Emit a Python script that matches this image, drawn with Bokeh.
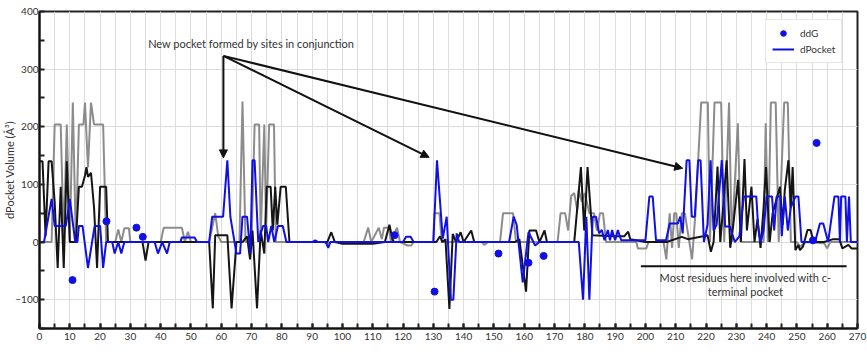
from bokeh.plotting import figure
from bokeh.models import (FixedTicker, Legend, LegendItem, Arrow, NormalHead,
                          Label, Range1d)
from bokeh.embed import file_html
from bokeh.resources import INLINE

# ---------------- data ----------------
gray_x = [0, 4, 5, 7, 8, 9, 10, 11, 12, 13,
          14.5, 15, 16, 17, 18, 21, 22, 25, 26, 27,
          28, 29.5, 30, 40, 41, 47, 48, 49, 50, 56,
          58, 59, 60, 66, 67, 68, 70, 71, 72.5, 73,
          74.2, 74.8, 75.8, 77.4, 78, 94, 95, 96, 107, 108.5,
          109.5, 112, 113, 113.7, 115.3, 116, 118, 119, 121.5, 122.7,
          123.5, 130, 130.3, 132, 132.8, 146, 146.8, 148, 152, 153,
          156.3, 157.3, 171, 172, 173.5, 174.5, 175.5, 176.5, 177.5, 178,
          179, 180, 181.5, 183, 184, 185, 186, 187, 197, 197.5,
          200.3, 201, 206, 206.9, 208, 208.8, 209.5, 210.2, 211, 212,
          213, 214.5, 215.4, 216.5, 218.4, 220.6, 221.3, 222.8, 225, 226,
          227.6, 228.5, 230.5, 231.5, 239, 239.7, 240.5, 241.4, 243, 244,
          245.8, 247, 248, 250, 251, 253, 259, 260, 261, 270]
gray_y = [0, 0, 204, 204, 0, 204, 0, 242, 0, 204,
          204, 242, 130, 242, 204, 204, 0, 0, 22, 0,
          24, 24, 0, 0, 25, 25, 0, 18, 0, 0,
          50, 10, 0, 0, 244, 0, 0, 204, 204, 10,
          204, 20, 204, 204, 0, 0, -3, 0, 0, 25,
          0, 25, 5, 25, 25, 0, 25, 0, -6, -6,
          0, 0, 50, 50, 0, 0, -5, 0, 0, 50,
          50, 0, 0, 50, 50, 20, 80, 85, 55, 90,
          70, 85, 50, 50, 20, 50, 50, 0, 0, -11,
          -11, 0, 0, -30, 50, -10, 50, 50, -10, 50,
          50, 0, -30, 50, 242, 242, 0, 242, 242, 0,
          242, 0, 206, 0, 0, 206, 0, 242, 242, 0,
          242, 242, 0, 0, -8, 0, -2, -11, 0, 0]

black_x = [0, 1, 2, 3, 4, 5, 6, 7, 8, 9,
           10, 12, 13, 14, 15, 15.5, 16, 17, 18, 19,
           20, 22, 22.6, 34, 35, 36, 56, 57.2, 58, 62,
           63.4, 65, 67, 68.5, 69.5, 70.3, 71.8, 73, 74.2, 75,
           76.3, 77, 77.8, 78.5, 79.6, 81.3, 82.5, 95, 96.3, 97.5,
           100, 110, 114, 115.5, 116.5, 117, 131, 132.2, 133, 134,
           135.3, 136.4, 137.5, 139, 140, 142.5, 143.5, 157, 158.4, 160.6,
           161.7, 163.9, 165, 166.7, 167.5, 176.5, 178.7, 179.8, 180.9, 182.5,
           190, 193, 194.3, 195, 200, 207, 212, 214, 219, 220.5,
           221.6, 222.5, 223.8, 224.7, 225.5, 226.8, 228, 229, 230.6, 231.5,
           232.7, 233.5, 235, 236, 237, 238, 239, 239.8, 241, 242,
           244.4, 245.3, 246, 247.2, 248, 248.6, 249.5, 250.5, 251, 252,
           253.5, 254.5, 255.5, 259, 262, 264, 265, 267, 268, 270]
black_y = [140, 140, 10, 140, 140, 70, -45, 96, -45, 140,
           0, 0, 96, 96, 115, 130, 113, 120, 60, -45,
           96, 96, 0, 0, -32, 0, 0, -115, 12, 12,
           -115, 0, 0, 10, -30, 20, -115, 20, -20, 96,
           96, 20, 96, 30, 96, 96, 0, 0, 17, 0,
           -3, -3, 0, 30, 5, 0, 0, 10, 0, 5,
           -116, 14, 0, 17, 0, 20, 0, 0, 5, -86,
           20, 20, 0, 20, 0, 0, 130, 20, 130, 12,
           10, 10, 18, 5, 0, 0, 9, 5, 10, 12,
           -17, 0, 131, 0, 50, 142, -10, 30, 108, 0,
           144, 20, 96, 0, 40, -10, 60, 130, 0, 50,
           96, 30, 90, 142, 60, 130, -14, -5, -14, -8,
           21, 21, 0, 0, 5, 5, -11, -5, -11, -11]

pocket_x = [0, 1.5, 4, 5, 8.7, 10, 11.8, 12.5, 13, 14.2,
            16, 18.2, 20, 21, 22, 24, 24.8, 26, 27, 28,
            38, 39.1, 40.5, 42.1, 43, 46.5, 47, 51.2, 52, 56,
            57, 60.6, 62, 63, 65, 66.2, 67, 68.5, 69.6, 70.3,
            71, 72.2, 73.8, 74.8, 75.5, 76.5, 77.5, 78.7, 80.3, 81.5,
            90, 91, 92, 94.5, 95.3, 96, 120, 121, 122.5, 123.5,
            130, 131.2, 133.1, 134.4, 135.8, 136.6, 137.7, 138.5, 155, 156.5,
            157.5, 159.5, 161.4, 163.6, 165, 178, 179.4, 180.5, 181.5, 182.6,
            183.7, 184.7, 185.6, 186.5, 187.6, 188.3, 189, 190, 190.9, 192,
            200, 201.3, 202.4, 203.5, 206.8, 208, 210.7, 211.5, 212.3, 213.6,
            214.5, 215.3, 216.3, 217.4, 218.2, 219.3, 220.5, 221.5, 222.5, 223.5,
            225.2, 226.3, 227.9, 229.5, 231, 232.5, 236.6, 237.2, 238, 239,
            240, 241.8, 242.5, 243.3, 244.5, 245, 246, 247, 248, 249.5,
            250.5, 251.5, 256, 257.6, 258.7, 260.3, 262.4, 263.7, 264.2, 264.6,
            266, 266.5, 267.2, 267.8, 270]
pocket_y = [0, 0, 75, 28, 28, 75, 0, 0, 28, 28,
            -45, 28, 28, -45, 0, 0, -20, 0, -20, 0,
            0, -20, 0, -20, 0, 0, 8, 8, 0, 0,
            44, 44, 142, 44, -20, -20, 44, 44, -20, 142,
            142, 0, 28, 28, 0, 28, 0, 28, 28, 0,
            0, 3, 0, 0, -10, 0, 0, 9, 9, 0,
            0, 142, 6, 44, -100, -100, 15, 0, 0, 44,
            30, -70, 17, -6, 0, 0, -100, 44, -100, 44,
            44, 15, 21, 3, 21, 3, 21, 3, 21, 3,
            3, 79, 79, 3, 3, 32, 32, 44, 15, 142,
            142, 44, 44, 142, 142, 0, 30, 142, 20, 30,
            142, 27, 27, 0, 10, 79, 79, 27, 0, 20,
            79, 79, 20, 79, 79, 10, 79, 20, 60, 79,
            79, 0, 0, 32, 32, 0, 79, 79, 0, 79,
            79, 0, 79, 0, 0]

ddg_x = [10.9, 22.1, 32, 34.1, 117.2, 130.4, 151.5, 161.4, 166.4, 255.3, 256.5]
ddg_y = [-66, 36, 25, 9, 12, -86, -20, -36, -24, 3, 172]

x_ticks = list(range(0, 271, 10))
x_minor = list(range(0, 271, 5))
y_ticks = [-100, 0, 100, 200, 300, 400]
y_minor = [-150, -50, 50, 150, 250, 350]

note_top = "New pocket formed by sites in conjunction"
note_bottom_1 = "Most residues here involved with c-"
note_bottom_2 = "terminal pocket"
y_title = "dPocket Volume (Å³)"
x_title = "Res #"

BLUE = "#1010e6"
FONT = "Lato"

p = figure(width=867, height=357, output_backend="svg", toolbar_location=None,
           x_range=Range1d(0, 270), y_range=Range1d(-150, 400),
           min_border_left=38, min_border_right=10, min_border_top=11,
           min_border_bottom=29)
p.outline_line_color = "#222222"
p.outline_line_width = 2
p.background_fill_color = "white"
p.border_fill_color = "white"

# axes
p.xaxis.ticker = FixedTicker(ticks=x_ticks, minor_ticks=x_minor)
p.yaxis.ticker = FixedTicker(ticks=y_ticks, minor_ticks=y_minor)
for ax in (p.xaxis[0], p.yaxis[0]):
    ax.axis_line_width = 2
    ax.axis_line_color = "#111111"
    ax.major_tick_in = 5
    ax.major_tick_out = 0
    ax.minor_tick_in = 5
    ax.minor_tick_out = 0
    ax.major_tick_line_width = 2
    ax.minor_tick_line_width = 2
    ax.major_tick_line_color = "#222222"
    ax.minor_tick_line_color = "#222222"
    ax.major_label_text_font = FONT
    ax.major_label_text_font_size = "10px"
    ax.major_label_text_color = "#333333"
    ax.major_label_standoff = 4
p.yaxis.major_label_standoff = 1
p.yaxis.axis_label = y_title
p.yaxis.axis_label_text_font = FONT
p.yaxis.axis_label_text_font_size = "11px"
p.yaxis.axis_label_text_font_style = "normal"
p.yaxis.axis_label_text_color = "#333333"
p.yaxis.axis_label_standoff = -4

p.xgrid.grid_line_color = "#dcdcdc"
p.xgrid.minor_grid_line_color = "#dcdcdc"
p.ygrid.grid_line_color = "#dcdcdc"

# series
p.line(gray_x, gray_y, line_color="#8c8c8c", line_width=2)
p.line(black_x, black_y, line_color="#151515", line_width=2)
r_pocket = p.line(pocket_x, pocket_y, line_color=BLUE, line_width=2)
r_ddg = p.scatter(ddg_x, ddg_y, size=7, marker="circle", fill_color=BLUE,
                  line_color=BLUE)

legend = Legend(items=[LegendItem(label="ddG", renderers=[r_ddg]),
                       LegendItem(label="dPocket", renderers=[r_pocket])],
                location=(726, 265), padding=6, spacing=2, glyph_height=14,
                glyph_width=22, label_height=14, label_standoff=6,
                label_text_font=FONT, label_text_font_size="10px",
                label_text_color="#333333", border_line_color="#d0d0d0",
                border_line_width=1, margin=0)
p.add_layout(legend)

# x titles cut at page edges as in the reference
p.add_layout(Label(x=134, y=411, text=x_title, text_font=FONT,
                   text_font_size="11px", text_color="#333333",
                   text_align="center", text_baseline="bottom"))
p.add_layout(Label(x=134, y=-184, text=x_title, text_font=FONT,
                   text_font_size="11px", text_color="#333333",
                   text_align="center", text_baseline="top"))

# annotations
p.add_layout(Label(x=69.9, y=344, text=note_top, text_font=FONT,
                   text_font_size="11px", text_color="#333333",
                   text_align="center", text_baseline="middle"))
head = dict(size=8, fill_color="#111111", line_color="#111111")
for xe, ye in [(60.7, 146), (128.6, 147), (212.3, 128)]:
    p.add_layout(Arrow(end=NormalHead(**head), x_start=60.7, y_start=323,
                       x_end=xe, y_end=ye, line_width=2,
                       line_color="#111111"))
p.segment(x0=[198.5], y0=[-42], x1=[266.4], y1=[-42], line_width=2,
          line_color="#111111")
p.add_layout(Label(x=233, y=-61, text=note_bottom_1, text_font=FONT,
                   text_font_size="11px", text_color="#333333",
                   text_align="center", text_baseline="middle"))
p.add_layout(Label(x=233, y=-85, text=note_bottom_2, text_font=FONT,
                   text_font_size="11px", text_color="#333333",
                   text_align="center", text_baseline="middle"))

open("out.html", "w").write(file_html(p, INLINE))
